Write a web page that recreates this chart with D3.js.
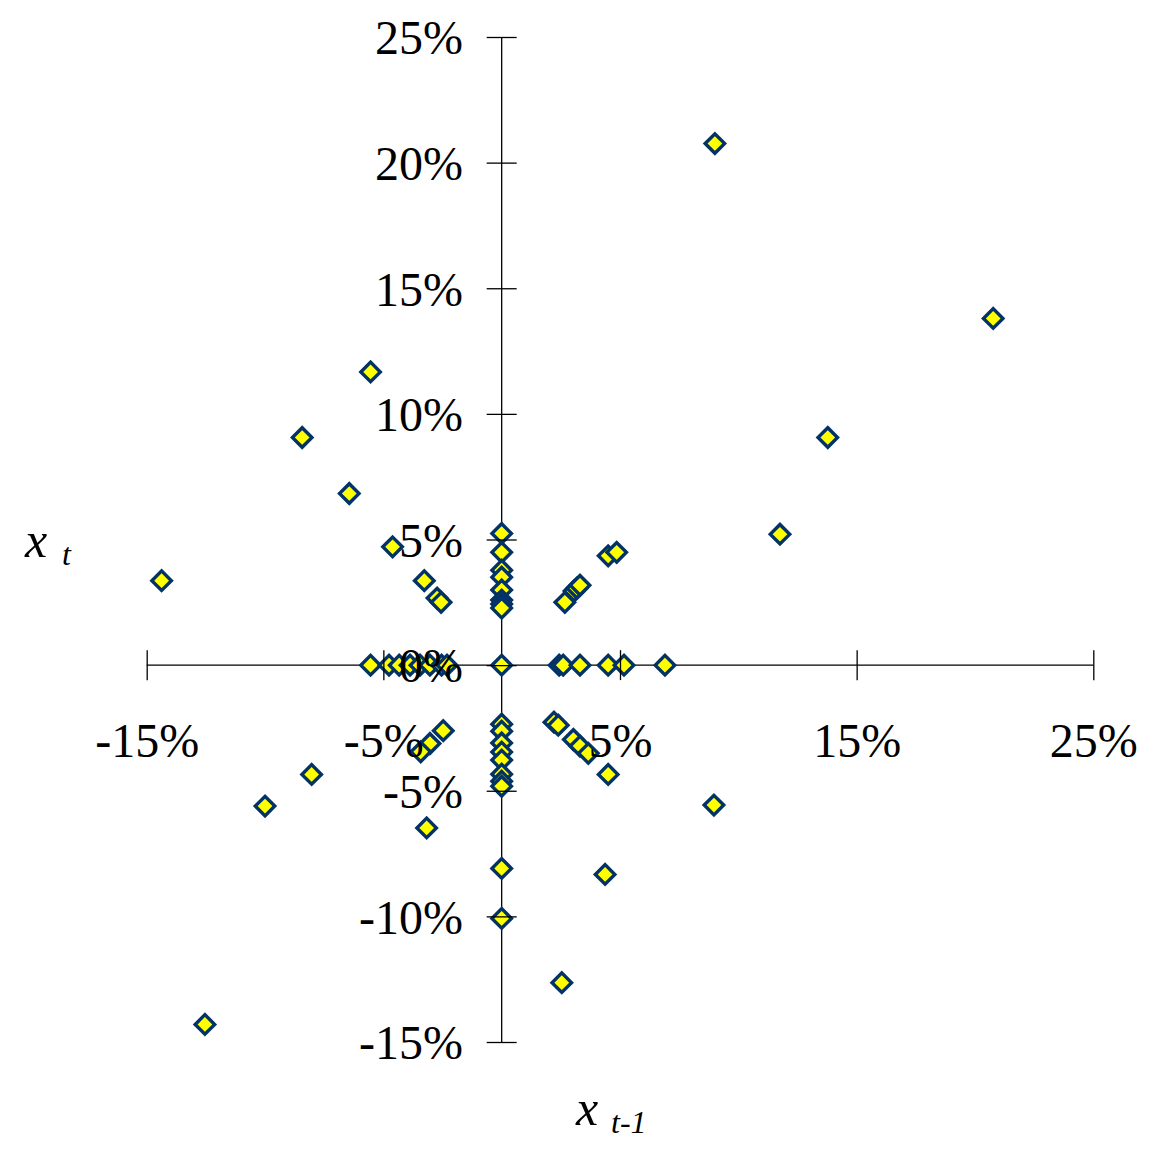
<!DOCTYPE html>
<html>
<head>
<meta charset="utf-8">
<script src="https://cdn.jsdelivr.net/npm/d3@7"></script>
<style>
  body { margin: 0; background: #fff; }
  svg { display: block; font-family: "Liberation Serif", "Times New Roman", serif; }
</style>
</head>
<body>
<svg width="1150" height="1156"></svg>
<script>
// lag plot: x(t-1) on the horizontal axis, x(t) on the vertical, in percent
var xPrev = [9.01, 20.77, 13.78, 11.76, -5.54, -8.43, -6.44, -4.61, -14.37, -3.27, -2.73, -2.56,
  0, 0, 0, 0, 0, 0, 0, 0,
  2.67, 3.06, 3.18, 3.31, 4.50, 4.86,
  -5.54, -4.76, -4.33, -3.87, -3.45, -3.03, -2.54, -2.31, 0, 2.43, 2.60, 3.31, 4.50, 5.17, 6.90,
  -2.47, -3.03, -3.42,
  0, 0, 0, 0, 0, 0, 0, 0,
  2.21, 2.39, 3.03, 3.31, 3.66, 4.50,
  -8.03, -10.00, 8.97, -3.17, 0, 4.37, 0, 2.54, -12.54];
var xCurr = [20.76, 13.80, 9.06, 5.21, 11.67, 9.06, 6.83, 4.71, 3.36, 3.36, 2.67, 2.50,
  5.24, 4.49, 3.78, 3.50, 2.99, 2.59, 2.43, 2.27,
  2.50, 2.95, 3.06, 3.18, 4.35, 4.49,
  0, 0, 0, 0, 0, 0, 0, 0, 0, 0, 0, 0, 0, 0, 0,
  -2.61, -3.12, -3.45,
  -2.35, -2.63, -3.10, -3.46, -3.78, -4.34, -4.62, -4.82,
  -2.27, -2.39, -2.96, -3.22, -3.51, -4.35,
  -4.35, -5.61, -5.57, -6.48, -8.09, -8.33, -10.08, -12.64, -14.30];

var xTicks = [-15, -5, 5, 15, 25];
var yTicks = [-15, -10, -5, 0, 5, 10, 15, 20, 25];

var svg = d3.select("svg");

var x = d3.scaleLinear().domain([-15, 25]).range([146.7, 1093.3]);
var y = d3.scaleLinear().domain([-15, 25]).range([1042, 37]);
var x0 = x(0), y0 = y(0);

var pct = function (d) { return d + "%"; };

// axis lines sit behind the markers
svg.append("line").attr("x1", x.range()[0]).attr("x2", x.range()[1])
  .attr("y1", y0).attr("y2", y0).attr("stroke", "#000").attr("stroke-width", 1.3);
svg.append("line").attr("x1", x0).attr("x2", x0)
  .attr("y1", y.range()[1]).attr("y2", y.range()[0]).attr("stroke", "#000").attr("stroke-width", 1.3);

var data = xPrev.map(function (d, i) { return { prev: d, curr: xCurr[i] }; });

var diamond = d3.symbol().type(d3.symbolSquare).size(190);

svg.append("g").selectAll("path").data(data).join("path")
  .attr("d", diamond)
  .attr("transform", function (d) { return "translate(" + x(d.prev) + "," + y(d.curr) + ") rotate(45)"; })
  .attr("fill", "#ffff00")
  .attr("stroke", "#033366")
  .attr("stroke-width", 3.4);

// ticks cross the axis line, labels drawn on top of the markers
var gx = svg.append("g").attr("transform", "translate(0," + y0 + ")")
  .call(d3.axisBottom(x).tickValues(xTicks).tickFormat(pct).tickSize(15).tickPadding(0));
gx.select(".domain").remove();
gx.selectAll(".tick line").attr("y1", -15).attr("y2", 15).attr("stroke-width", 1.3);
gx.selectAll(".tick text").attr("y", 92).attr("dy", 0)
  .attr("font-size", 48).attr("font-family", "Liberation Serif").attr("fill", "#000");

var gy = svg.append("g").attr("transform", "translate(" + x0 + ",0)")
  .call(d3.axisLeft(y).tickValues(yTicks).tickFormat(pct).tickSize(15).tickPadding(0));
gy.select(".domain").remove();
gy.selectAll(".tick line").attr("x1", -15).attr("x2", 15).attr("stroke-width", 1.3);
gy.selectAll(".tick text").attr("x", -38.7).attr("dy", "0.35em")
  .attr("font-size", 48).attr("font-family", "Liberation Serif").attr("fill", "#000");

// axis titles with subscripts
var yt = svg.append("text").attr("font-style", "italic").attr("fill", "#000");
yt.append("tspan").attr("x", 25).attr("y", 557).attr("font-size", 50).text("x");
yt.append("tspan").attr("x", 62).attr("y", 565).attr("font-size", 32).text("t");

var xt = svg.append("text").attr("font-style", "italic").attr("fill", "#000");
xt.append("tspan").attr("x", 576).attr("y", 1125).attr("font-size", 50).text("x");
xt.append("tspan").attr("x", 611).attr("y", 1133).attr("font-size", 32).text("t-1");
</script>
</body>
</html>
